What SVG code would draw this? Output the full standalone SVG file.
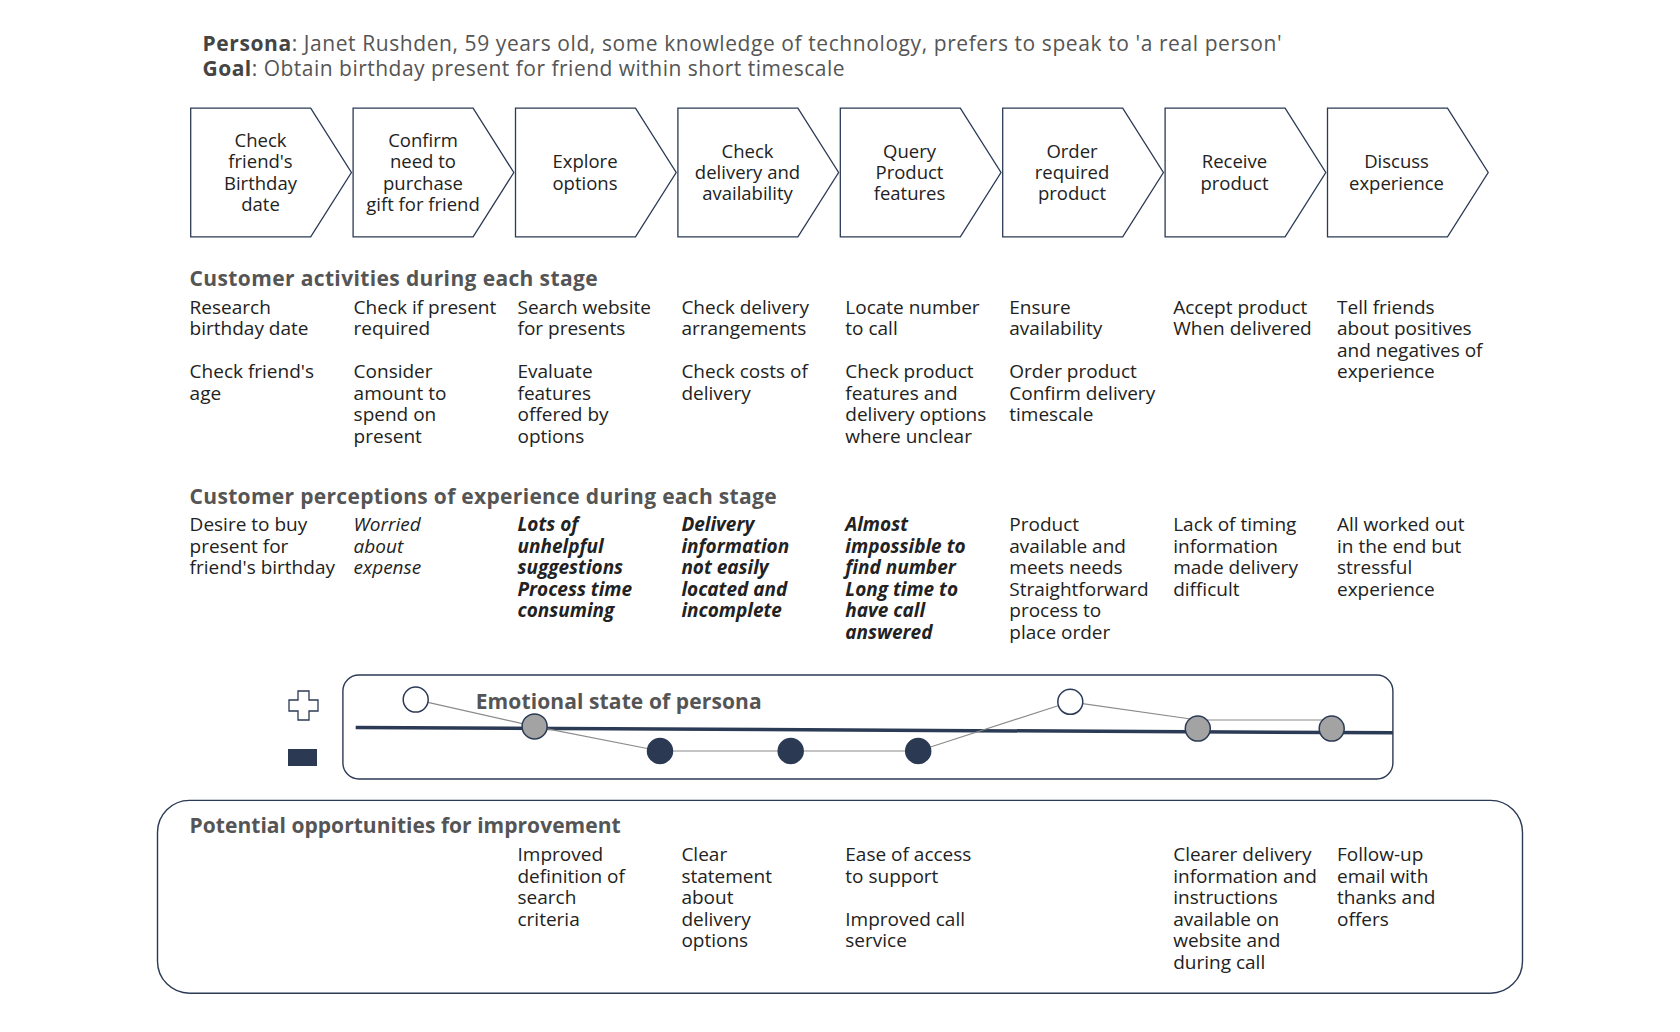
<svg xmlns="http://www.w3.org/2000/svg" width="1680" height="1032" viewBox="0 0 1680 1032">
<style>
text{font-family:"Open Sans","Noto Sans","Liberation Sans",sans-serif;}
.title{font-size:21px;fill:#555;}
.title tspan.b{font-weight:700;fill:#444;}
.chev{fill:#fff;stroke:#2b3a55;stroke-width:1.3;}
.ct{font-size:18.5px;fill:#222;text-anchor:middle;}
.head{font-size:21px;font-weight:700;fill:#555;}
.body{font-size:19px;fill:#222;}
.it{font-style:italic;}
.bi{font-style:italic;font-weight:700;}
.frame{fill:none;stroke:#2b3a55;stroke-width:1.4;}
.base{stroke:#2b3a55;stroke-width:3.5;fill:none;}
.trend{stroke:#8a8a8a;stroke-width:1.2;fill:none;}
.pos{fill:#fff;stroke:#2b3a55;stroke-width:1.5;}
.mid{fill:#a3a3a3;stroke:#2b3a55;stroke-width:1.5;}
.neg{fill:#2b3a52;stroke:#2b3a55;stroke-width:1.5;}
</style>
<rect width="1680" height="1032" fill="#fff"/>
<g id="header">
<text class="title" x="202.5" y="51" textLength="1079" lengthAdjust="spacing"><tspan class="b">Persona</tspan>: Janet Rushden, 59 years old, some knowledge of technology, prefers to speak to 'a real person'</text>
<text class="title" x="202.5" y="76" textLength="642" lengthAdjust="spacing"><tspan class="b">Goal</tspan>: Obtain birthday present for friend within short timescale</text>
</g>
<g id="stages">
<g id="stage1"><path class="chev" d="M190.7 108.2H310.7L351.4 172.5L310.7 236.8H190.7Z"/><text class="ct"><tspan x="260.5" y="146.8">Check</tspan><tspan x="260.5" y="168.2">friend's</tspan><tspan x="260.5" y="189.6">Birthday</tspan><tspan x="260.5" y="211">date</tspan></text></g>
<g id="stage2"><path class="chev" d="M353.1 108.2H473.1L513.8 172.5L473.1 236.8H353.1Z"/><text class="ct"><tspan x="423" y="146.8">Confirm</tspan><tspan x="423" y="168.2">need to</tspan><tspan x="423" y="189.6">purchase</tspan><tspan x="423" y="211">gift for friend</tspan></text></g>
<g id="stage3"><path class="chev" d="M515.5 108.2H635.5L676.2 172.5L635.5 236.8H515.5Z"/><text class="ct"><tspan x="585" y="168.2">Explore</tspan><tspan x="585" y="189.6">options</tspan></text></g>
<g id="stage4"><path class="chev" d="M677.9 108.2H797.9L838.6 172.5L797.9 236.8H677.9Z"/><text class="ct"><tspan x="747.5" y="157.5">Check</tspan><tspan x="747.5" y="179">delivery and</tspan><tspan x="747.5" y="200.4">availability</tspan></text></g>
<g id="stage5"><path class="chev" d="M840.3 108.2H960.3L1001 172.5L960.3 236.8H840.3Z"/><text class="ct"><tspan x="909.5" y="157.5">Query</tspan><tspan x="909.5" y="179">Product</tspan><tspan x="909.5" y="200.4">features</tspan></text></g>
<g id="stage6"><path class="chev" d="M1002.7 108.2H1122.7L1163.4 172.5L1122.7 236.8H1002.7Z"/><text class="ct"><tspan x="1072" y="157.5">Order</tspan><tspan x="1072" y="179">required</tspan><tspan x="1072" y="200.4">product</tspan></text></g>
<g id="stage7"><path class="chev" d="M1165.1 108.2H1285.1L1325.8 172.5L1285.1 236.8H1165.1Z"/><text class="ct"><tspan x="1234.5" y="168.2">Receive</tspan><tspan x="1234.5" y="189.6">product</tspan></text></g>
<g id="stage8"><path class="chev" d="M1327.5 108.2H1447.5L1488.2 172.5L1447.5 236.8H1327.5Z"/><text class="ct"><tspan x="1396.5" y="168.2">Discuss</tspan><tspan x="1396.5" y="189.6">experience</tspan></text></g>
</g>
<g id="activities">
<text class="head" x="189.6" y="286" textLength="408" lengthAdjust="spacing">Customer activities during each stage</text>
<text class="body"><tspan x="189.6" y="314">Research</tspan><tspan x="189.6" y="335.4">birthday date</tspan><tspan x="189.6" y="378.2">Check friend's</tspan><tspan x="189.6" y="399.6">age</tspan></text>
<text class="body"><tspan x="353.6" y="314">Check if present</tspan><tspan x="353.6" y="335.4">required</tspan><tspan x="353.6" y="378.2">Consider</tspan><tspan x="353.6" y="399.6">amount to</tspan><tspan x="353.6" y="421">spend on</tspan><tspan x="353.6" y="442.5">present</tspan></text>
<text class="body"><tspan x="517.5" y="314">Search website</tspan><tspan x="517.5" y="335.4">for presents</tspan><tspan x="517.5" y="378.2">Evaluate</tspan><tspan x="517.5" y="399.6">features</tspan><tspan x="517.5" y="421">offered by</tspan><tspan x="517.5" y="442.5">options</tspan></text>
<text class="body"><tspan x="681.4" y="314">Check delivery</tspan><tspan x="681.4" y="335.4">arrangements</tspan><tspan x="681.4" y="378.2">Check costs of</tspan><tspan x="681.4" y="399.6">delivery</tspan></text>
<text class="body"><tspan x="845.3" y="314">Locate number</tspan><tspan x="845.3" y="335.4">to call</tspan><tspan x="845.3" y="378.2">Check product</tspan><tspan x="845.3" y="399.6">features and</tspan><tspan x="845.3" y="421">delivery options</tspan><tspan x="845.3" y="442.5">where unclear</tspan></text>
<text class="body"><tspan x="1009.3" y="314">Ensure</tspan><tspan x="1009.3" y="335.4">availability</tspan><tspan x="1009.3" y="378.2">Order product</tspan><tspan x="1009.3" y="399.6">Confirm delivery</tspan><tspan x="1009.3" y="421">timescale</tspan></text>
<text class="body"><tspan x="1173.2" y="314">Accept product</tspan><tspan x="1173.2" y="335.4">When delivered</tspan></text>
<text class="body"><tspan x="1337" y="314">Tell friends</tspan><tspan x="1337" y="335.4">about positives</tspan><tspan x="1337" y="356.8">and negatives of</tspan><tspan x="1337" y="378.2">experience</tspan></text>
</g>
<g id="perceptions">
<text class="head" x="189.6" y="503.6" textLength="587" lengthAdjust="spacing">Customer perceptions of experience during each stage</text>
<text class="body"><tspan x="189.6" y="531.4">Desire to buy</tspan><tspan x="189.6" y="552.9">present for</tspan><tspan x="189.6" y="574.3">friend's birthday</tspan></text>
<text class="body it"><tspan x="353.6" y="531.4">Worried</tspan><tspan x="353.6" y="552.9">about</tspan><tspan x="353.6" y="574.3">expense</tspan></text>
<text class="body bi"><tspan x="517.5" y="531.4">Lots of</tspan><tspan x="517.5" y="552.9">unhelpful</tspan><tspan x="517.5" y="574.3">suggestions</tspan><tspan x="517.5" y="595.7">Process time</tspan><tspan x="517.5" y="617.1">consuming</tspan></text>
<text class="body bi"><tspan x="681.4" y="531.4">Delivery</tspan><tspan x="681.4" y="552.9">information</tspan><tspan x="681.4" y="574.3">not easily</tspan><tspan x="681.4" y="595.7">located and</tspan><tspan x="681.4" y="617.1">incomplete</tspan></text>
<text class="body bi"><tspan x="845.3" y="531.4">Almost</tspan><tspan x="845.3" y="552.9">impossible to</tspan><tspan x="845.3" y="574.3">find number</tspan><tspan x="845.3" y="595.7">Long time to</tspan><tspan x="845.3" y="617.1">have call</tspan><tspan x="845.3" y="638.6">answered</tspan></text>
<text class="body"><tspan x="1009.3" y="531.4">Product</tspan><tspan x="1009.3" y="552.9">available and</tspan><tspan x="1009.3" y="574.3">meets needs</tspan><tspan x="1009.3" y="595.7">Straightforward</tspan><tspan x="1009.3" y="617.1">process to</tspan><tspan x="1009.3" y="638.6">place order</tspan></text>
<text class="body"><tspan x="1173.2" y="531.4">Lack of timing</tspan><tspan x="1173.2" y="552.9">information</tspan><tspan x="1173.2" y="574.3">made delivery</tspan><tspan x="1173.2" y="595.7">difficult</tspan></text>
<text class="body"><tspan x="1337" y="531.4">All worked out</tspan><tspan x="1337" y="552.9">in the end but</tspan><tspan x="1337" y="574.3">stressful</tspan><tspan x="1337" y="595.7">experience</tspan></text>
</g>
<g id="emotion">
<path d="M298 691v9h-9v11h9v9h11v-9h9v-11h-9v-9z" fill="#fff" stroke="#2b3a55" stroke-width="1.3"/>
<rect x="288" y="749" width="29" height="17" fill="#2b3a52"/>
<rect class="frame" x="342.9" y="675" width="1050" height="104" rx="16"/>
<path class="base" d="M355.7 727.5L1392.9 732.8"/>
<text class="head" x="475.7" y="709" textLength="286" lengthAdjust="spacing">Emotional state of persona</text>
<g id="connectors">
<path class="trend" d="M415.7 699.6L534.6 726.4L660 751L790.7 751L918.2 751L1070.3 701.8L1197.8 720H1331.7"/>
</g>
<ellipse id="e1" class="pos" cx="415.7" cy="699.6" rx="12.5" ry="12.5"/>
<ellipse id="e2" class="mid" cx="534.6" cy="726.4" rx="12.5" ry="12.5"/>
<ellipse id="e3" class="neg" cx="660" cy="751" rx="12.5" ry="12.5"/>
<ellipse id="e4" class="neg" cx="790.7" cy="751" rx="12.5" ry="12.5"/>
<ellipse id="e5" class="neg" cx="918.2" cy="751" rx="12.5" ry="12.5"/>
<ellipse id="e6" class="pos" cx="1070.3" cy="701.8" rx="12.5" ry="12.5"/>
<ellipse id="e7" class="mid" cx="1197.8" cy="728.6" rx="12.5" ry="12.5"/>
<ellipse id="e8" class="mid" cx="1331.7" cy="728.6" rx="12.5" ry="12.5"/>
</g>
<g id="opportunities">
<rect class="frame" x="157.5" y="800.4" width="1365" height="192.8" rx="32"/>
<text class="head" x="189.6" y="832.5" textLength="431" lengthAdjust="spacing">Potential opportunities for improvement</text>
<text class="body"><tspan x="517.5" y="861.4">Improved</tspan><tspan x="517.5" y="882.8">definition of</tspan><tspan x="517.5" y="904.3">search</tspan><tspan x="517.5" y="925.7">criteria</tspan></text>
<text class="body"><tspan x="681.4" y="861.4">Clear</tspan><tspan x="681.4" y="882.8">statement</tspan><tspan x="681.4" y="904.3">about</tspan><tspan x="681.4" y="925.7">delivery</tspan><tspan x="681.4" y="947.1">options</tspan></text>
<text class="body"><tspan x="845.3" y="861.4">Ease of access</tspan><tspan x="845.3" y="882.8">to support</tspan><tspan x="845.3" y="925.7">Improved call</tspan><tspan x="845.3" y="947.1">service</tspan></text>
<text class="body"><tspan x="1173.2" y="861.4">Clearer delivery</tspan><tspan x="1173.2" y="882.8">information and</tspan><tspan x="1173.2" y="904.3">instructions</tspan><tspan x="1173.2" y="925.7">available on</tspan><tspan x="1173.2" y="947.1">website and</tspan><tspan x="1173.2" y="968.6">during call</tspan></text>
<text class="body"><tspan x="1337" y="861.4">Follow-up</tspan><tspan x="1337" y="882.8">email with</tspan><tspan x="1337" y="904.3">thanks and</tspan><tspan x="1337" y="925.7">offers</tspan></text>
</g>
</svg>
